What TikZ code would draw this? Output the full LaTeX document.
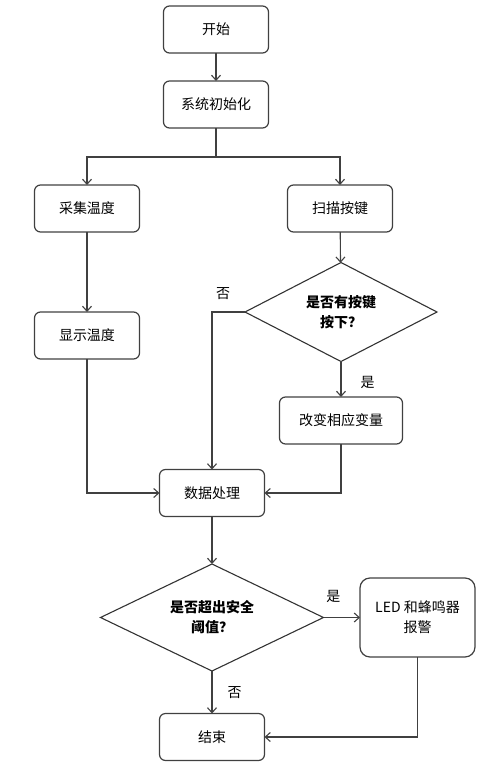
\documentclass[tikz,border=0pt]{standalone}
\usepackage{fontspec}
\setmainfont{Noto Sans CJK SC}
\usepackage{tikz}
\usetikzlibrary{arrows.meta,calc,positioning,shapes.geometric}
\newdimen\hdim
\newdimen\wdim
\hdim=47pt
\wdim=105pt
\tikzstyle{block}=[
  draw=black!75,
  font={\fontsize{14}{20}\selectfont},
  inner sep=2pt,
  minimum height=\hdim,
  minimum width=\wdim,
  outer sep=0pt,
  rectangle,
  rounded corners=6pt,
  align=center,
  line width=1.2pt,
]
\tikzstyle{decision}=[
  draw=black!80,
  font={\fontsize{14}{20}\selectfont\bfseries},
  inner sep=0pt,
  outer sep=0pt,
  diamond,
  aspect=2,
  align=center,
  line width=1.1pt,
]
\tikzstyle{arrow}=[
  draw=black!75,
  line width=1.1pt,
]
\tikzstyle{arrowlabel}=[
  font={\fontsize{14}{20}\selectfont},
  inner sep=0pt,
]
\tikzset{
  x=1pt, y=1pt,
  >={Straight Barb[length=5pt,width=9pt]},
}
\begin{document}
\begin{tikzpicture}
      \useasboundingbox (0,0) rectangle (498,-764);
      \node (start) [block] at (216,-29.5) {开始};
      \node (init) [block] at (216,-104.5) {系统初始化};
      \coordinate (split) at (216,-157);
      %%
      \node (collect) [block] at (87,-208.5) {采集温度};
      \node (show) [block] at (87,-335.5) {显示温度};
      \node (scan) [block] at (340,-208.5) {扫描按键};
      \node (keyq) [decision, minimum width=192pt, minimum height=99pt] at (341,-312) {是否有按键\\按下？};
      \node (change) [block, minimum width=123pt] at (341,-420.5) {改变相应变量};
      %%
      \node (dataproc) [block] at (212,-493) {数据处理};
      \node (alarmq) [decision, minimum width=223pt, minimum height=107pt] at (212,-617.5) {是否超出安全\\阈值？};
      \node (alarm) [block, minimum width=115pt, minimum height=79pt, rounded corners=10pt] at (417.5,-617.5) {LED 和蜂鸣器\\报警};
      \node (finish) [block] at (212,-737) {结束};
      %%
      \draw [->, arrow] (start) -- (init);
      \draw [arrow] (init) -- (split);
      \draw [->, arrow] (split) -| (collect);
      \draw [->, arrow] (split) -| (scan);
      \draw [->, arrow] (collect) -- (show);
      \draw [->, arrow] (scan) -- (keyq);
      \draw [->, arrow] (keyq.west) -| node [arrowlabel, pos=0.33, above=12pt] {否} (dataproc.north);
      \draw [->, arrow] (keyq) -- node [arrowlabel, pos=0.6, right=19pt] {是} (change);
      \draw [->, arrow] (show) |- (dataproc);
      \draw [->, arrow] (change) |- (dataproc);
      \draw [->, arrow] (dataproc) -- (alarmq);
      \draw [->, arrow] (alarmq) -- node [arrowlabel, pos=0.27, above=14pt] {是} (alarm);
      \draw [->, arrow] (alarmq) -- node [arrowlabel, right=15pt] {否} (finish);
      \draw [->, arrow] (alarm) |- (finish);
    \end{tikzpicture}
\end{document}
